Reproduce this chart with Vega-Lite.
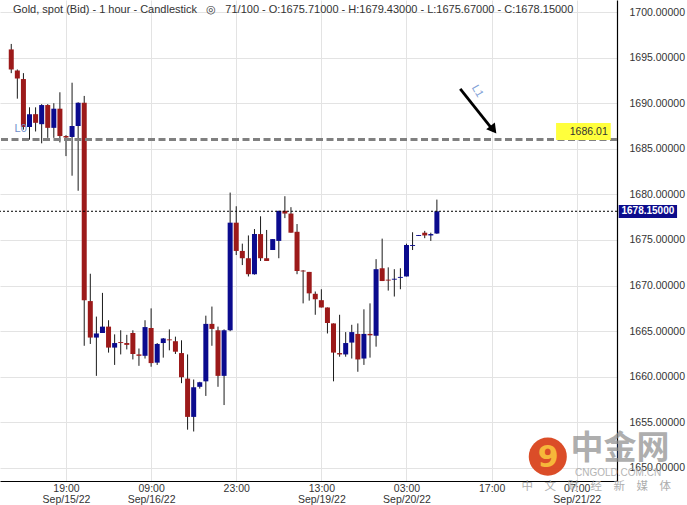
{
  "$schema": "https://vega.github.io/schema/vega-lite/v6.json",
  "width": 617,
  "height": 481,
  "autosize": "none",
  "padding": {"left": 0, "top": 0, "right": 70, "bottom": 24},
  "background": "white",
  "config": {"view": {"stroke": null}, "font": "Liberation Sans"},
  "title": {
    "text": "Gold, spot (Bid) - 1 hour - Candlestick\u00a0\u00a0\u00a0◎\u00a0\u00a0\u00a071/100 - O:1675.71000 - H:1679.43000 - L:1675.67000 - C:1678.15000",
    "anchor": "start",
    "frame": "group",
    "offset": -15,
    "dx": 13,
    "fontSize": 11,
    "fontWeight": "normal",
    "color": "#333333",
    "font": "Liberation Sans"
  },
  "datasets": {
    "candles": [
      {"i": -9, "o": 1695.9, "h": 1696.5, "l": 1693.3, "c": 1693.7},
      {"i": -8, "o": 1693.6, "h": 1693.7, "l": 1690.5, "c": 1692.7},
      {"i": -7, "o": 1692.65, "h": 1693.3, "l": 1687.1, "c": 1687.4},
      {"i": -6, "o": 1687.4, "h": 1689.55, "l": 1686.0, "c": 1688.8},
      {"i": -5, "o": 1688.8, "h": 1689.55, "l": 1686.9, "c": 1687.85},
      {"i": -4, "o": 1687.7, "h": 1689.9, "l": 1685.6, "c": 1689.8},
      {"i": -3, "o": 1689.8, "h": 1689.9, "l": 1686.2, "c": 1687.3},
      {"i": -2, "o": 1687.3, "h": 1690.0, "l": 1686.2, "c": 1689.4},
      {"i": -1, "o": 1689.4, "h": 1691.2, "l": 1685.7, "c": 1686.4},
      {"i": 0, "o": 1686.4, "h": 1686.5, "l": 1684.2, "c": 1686.25},
      {"i": 1, "o": 1686.3, "h": 1692.25, "l": 1682.05, "c": 1687.5},
      {"i": 2, "o": 1687.5, "h": 1690.1, "l": 1680.4, "c": 1690.05},
      {"i": 3, "o": 1690.05, "h": 1690.8, "l": 1663.4, "c": 1668.4},
      {"i": 4, "o": 1668.3, "h": 1671.3, "l": 1663.6, "c": 1664.3},
      {"i": 5, "o": 1664.3, "h": 1666.6, "l": 1660.1, "c": 1664.75},
      {"i": 6, "o": 1664.8, "h": 1669.2, "l": 1664.8, "c": 1665.5},
      {"i": 7, "o": 1665.5, "h": 1666.2, "l": 1662.65, "c": 1663.2},
      {"i": 8, "o": 1663.2, "h": 1664.65, "l": 1661.3, "c": 1663.7},
      {"i": 9, "o": 1663.8, "h": 1665.1, "l": 1662.45, "c": 1663.7},
      {"i": 10, "o": 1663.7, "h": 1664.6, "l": 1663.0, "c": 1663.5},
      {"i": 11, "o": 1664.8, "h": 1665.1, "l": 1661.9, "c": 1662.5},
      {"i": 12, "o": 1662.45, "h": 1663.1, "l": 1661.2, "c": 1662.3},
      {"i": 13, "o": 1662.3, "h": 1666.2, "l": 1662.0, "c": 1665.45},
      {"i": 14, "o": 1665.35, "h": 1667.5, "l": 1661.1, "c": 1661.5},
      {"i": 15, "o": 1661.55, "h": 1663.7, "l": 1661.3, "c": 1663.6},
      {"i": 16, "o": 1663.7, "h": 1664.25, "l": 1662.1, "c": 1664.2},
      {"i": 17, "o": 1664.1, "h": 1665.2, "l": 1662.9, "c": 1664.0},
      {"i": 18, "o": 1663.9, "h": 1664.4, "l": 1662.5, "c": 1662.75},
      {"i": 19, "o": 1662.6, "h": 1664.0, "l": 1659.3, "c": 1659.95},
      {"i": 20, "o": 1659.8, "h": 1662.45, "l": 1654.2, "c": 1655.6},
      {"i": 21, "o": 1655.6, "h": 1659.7, "l": 1654.0, "c": 1658.85},
      {"i": 22, "o": 1658.9, "h": 1659.45, "l": 1658.7, "c": 1659.4},
      {"i": 23, "o": 1659.5, "h": 1666.7, "l": 1657.9, "c": 1665.8},
      {"i": 24, "o": 1665.8, "h": 1667.7, "l": 1663.4, "c": 1665.25},
      {"i": 25, "o": 1665.1, "h": 1665.5, "l": 1658.9, "c": 1660.1},
      {"i": 26, "o": 1660.1, "h": 1665.2, "l": 1656.9, "c": 1665.1},
      {"i": 27, "o": 1665.1, "h": 1680.2, "l": 1665.0, "c": 1676.9},
      {"i": 28, "o": 1676.9, "h": 1678.7, "l": 1673.35, "c": 1673.8},
      {"i": 29, "o": 1673.8, "h": 1674.6, "l": 1672.25, "c": 1673.0},
      {"i": 30, "o": 1673.0, "h": 1675.5, "l": 1671.0, "c": 1671.25},
      {"i": 31, "o": 1671.25, "h": 1676.2, "l": 1671.2, "c": 1675.65},
      {"i": 32, "o": 1675.65, "h": 1677.6, "l": 1672.7, "c": 1673.0},
      {"i": 33, "o": 1673.0, "h": 1676.1, "l": 1672.7, "c": 1672.7},
      {"i": 34, "o": 1673.9, "h": 1675.1, "l": 1673.9, "c": 1675.1},
      {"i": 35, "o": 1674.9, "h": 1678.2, "l": 1673.0, "c": 1678.2},
      {"i": 36, "o": 1678.2, "h": 1679.8, "l": 1677.4, "c": 1677.9},
      {"i": 37, "o": 1677.9, "h": 1678.6, "l": 1675.8, "c": 1675.8},
      {"i": 38, "o": 1675.9, "h": 1676.75, "l": 1671.25, "c": 1671.6},
      {"i": 39, "o": 1671.65, "h": 1671.7, "l": 1668.05, "c": 1671.55},
      {"i": 40, "o": 1671.5, "h": 1671.5, "l": 1668.35, "c": 1669.15},
      {"i": 41, "o": 1669.1, "h": 1669.35, "l": 1666.8, "c": 1668.5},
      {"i": 42, "o": 1668.4, "h": 1669.6, "l": 1667.6, "c": 1667.6},
      {"i": 43, "o": 1667.6, "h": 1667.6, "l": 1664.75, "c": 1665.9},
      {"i": 44, "o": 1665.85, "h": 1665.85, "l": 1659.5, "c": 1662.65},
      {"i": 45, "o": 1662.6, "h": 1666.8, "l": 1662.2, "c": 1662.45},
      {"i": 46, "o": 1662.45, "h": 1664.9, "l": 1662.2, "c": 1663.7},
      {"i": 47, "o": 1663.75, "h": 1665.7, "l": 1662.0, "c": 1664.9},
      {"i": 48, "o": 1664.7, "h": 1665.85, "l": 1660.55, "c": 1661.9},
      {"i": 49, "o": 1662.0, "h": 1667.4, "l": 1661.3, "c": 1664.7},
      {"i": 50, "o": 1664.7, "h": 1668.05, "l": 1662.1, "c": 1664.55},
      {"i": 51, "o": 1664.5, "h": 1672.9, "l": 1663.3, "c": 1671.8},
      {"i": 52, "o": 1671.9, "h": 1675.15, "l": 1670.5, "c": 1670.5},
      {"i": 53, "o": 1670.65, "h": 1672.0, "l": 1669.45, "c": 1670.55},
      {"i": 54, "o": 1670.65, "h": 1671.8, "l": 1668.8, "c": 1670.75},
      {"i": 55, "o": 1670.85, "h": 1671.9, "l": 1669.6, "c": 1670.95},
      {"i": 56, "o": 1671.0, "h": 1674.6, "l": 1671.0, "c": 1674.45},
      {"i": 57, "o": 1674.35, "h": 1675.85, "l": 1673.9, "c": 1674.45},
      {"i": 58, "o": 1675.45, "h": 1675.55, "l": 1675.45, "c": 1675.55},
      {"i": 59, "o": 1675.8, "h": 1676.0, "l": 1675.2, "c": 1675.5},
      {"i": 60, "o": 1675.5, "h": 1675.8, "l": 1674.9, "c": 1675.65},
      {"i": 61, "o": 1675.71, "h": 1679.43, "l": 1675.67, "c": 1678.15}
    ]
  },
  "layer": [
    {
      "data": {"name": "candles"},
      "mark": {"type": "rule", "color": "#1a1a1a", "strokeWidth": 1},
      "encoding": {
        "x": {
          "field": "i", "type": "quantitative", "title": null,
          "scale": {"domain": [-10.03, 89.8], "nice": false, "zero": false},
          "axis": {
            "title": null, "orient": "bottom",
            "values": [0, 14, 28, 42, 56, 70, 84],
            "labelExpr": "datum.value == 0 ? ['19:00','Sep/15/22'] : datum.value == 14 ? ['09:00','Sep/16/22'] : datum.value == 28 ? '23:00' : datum.value == 42 ? ['13:00','Sep/19/22'] : datum.value == 56 ? ['03:00','Sep/20/22'] : datum.value == 70 ? '17:00' : ['07:00','Sep/21/22']",
            "labelFontSize": 10.5, "labelColor": "#333333", "labelFont": "Liberation Sans",
            "labelLineHeight": 11, "labelPadding": 2, "labelBaseline": "top",
            "tickSize": 0, "domainColor": "#000000", "domainWidth": 1.2,
            "grid": true, "gridColor": "#e3e3e3", "gridWidth": 1
          }
        },
        "y": {
          "field": "l", "type": "quantitative", "title": null,
          "scale": {"domain": [1648.57, 1701.32], "nice": false, "zero": false},
          "axis": {
            "title": null, "orient": "right",
            "values": [1650, 1655, 1660, 1665, 1670, 1675, 1680, 1685, 1690, 1695, 1700],
            "format": ".5f",
            "labelFontSize": 10.5, "labelColor": "#333333", "labelFont": "Liberation Sans",
            "labelPadding": 12, "tickSize": 0,
            "domainColor": "#000000", "domainWidth": 1.2,
            "grid": true, "gridColor": "#e3e3e3", "gridWidth": 1
          }
        },
        "y2": {"field": "h"}
      }
    },
    {
      "data": {"name": "candles"},
      "mark": {"type": "bar", "size": 5},
      "encoding": {
        "x": {"field": "i", "type": "quantitative", "title": null},
        "y": {"field": "o", "type": "quantitative", "title": null},
        "y2": {"field": "c"},
        "color": {
          "condition": {"test": "datum.c < datum.o", "value": "#9c1a1a"},
          "value": "#0b0b8e"
        }
      }
    },
    {
      "data": {"values": [{"p": 1686.01}]},
      "mark": {"type": "rule", "color": "#808080", "strokeWidth": 3, "strokeDash": [7, 3.5]},
      "encoding": {"y": {"field": "p", "type": "quantitative", "title": null}}
    },
    {
      "data": {"values": [{"p": 1678.15}]},
      "mark": {"type": "rule", "color": "#000000", "strokeWidth": 1, "strokeDash": [2, 2]},
      "encoding": {"y": {"field": "p", "type": "quantitative", "title": null}}
    },
    {
      "data": {"values": [{"i": 64.84, "p": 1691.56, "i2": 70.3, "p2": 1687.0}]},
      "mark": {"type": "rule", "color": "#000000", "strokeWidth": 2.8},
      "encoding": {
        "x": {"field": "i", "type": "quantitative", "title": null},
        "y": {"field": "p", "type": "quantitative", "title": null},
        "x2": {"field": "i2"},
        "y2": {"field": "p2"}
      }
    },
    {
      "data": {"values": [{"i": 70.3, "p": 1687.1}]},
      "mark": {"type": "point", "shape": "triangle-up", "filled": true, "color": "#000000", "opacity": 1, "size": 120, "angle": 142},
      "encoding": {
        "x": {"field": "i", "type": "quantitative", "title": null},
        "y": {"field": "p", "type": "quantitative", "title": null}
      }
    },
    {
      "data": {"values": [{"i": 80.6, "i2": 89.6, "p": 1685.97, "p2": 1687.83}]},
      "mark": {"type": "rect", "color": "#ffff3c"},
      "encoding": {
        "x": {"field": "i", "type": "quantitative", "title": null},
        "x2": {"field": "i2"},
        "y": {"field": "p", "type": "quantitative", "title": null},
        "y2": {"field": "p2"}
      }
    },
    {
      "data": {"values": [{"i": 89.1, "p": 1686.85, "t": "1686.01"}]},
      "mark": {"type": "text", "align": "right", "baseline": "middle", "fontSize": 10.5, "color": "#333333", "font": "Liberation Sans"},
      "encoding": {
        "x": {"field": "i", "type": "quantitative", "title": null},
        "y": {"field": "p", "type": "quantitative", "title": null},
        "text": {"field": "t"}
      }
    },
    {
      "data": {"values": [{"i": 90.9, "i2": 100.5, "p": 1677.42, "p2": 1678.84}]},
      "mark": {"type": "rect", "color": "#0c0c8c"},
      "encoding": {
        "x": {"field": "i", "type": "quantitative", "title": null},
        "x2": {"field": "i2"},
        "y": {"field": "p", "type": "quantitative", "title": null},
        "y2": {"field": "p2"}
      }
    },
    {
      "data": {"values": [{"i": 95.7, "p": 1678.13, "t": "1678.15000"}]},
      "mark": {"type": "text", "align": "center", "baseline": "middle", "fontSize": 10, "fontWeight": "bold", "color": "#ffffff", "font": "Liberation Sans"},
      "encoding": {
        "x": {"field": "i", "type": "quantitative", "title": null},
        "y": {"field": "p", "type": "quantitative", "title": null},
        "text": {"field": "t"}
      }
    },
    {
      "data": {"values": [{"i": -7.44, "p": 1687.18, "t": "L0"}]},
      "mark": {"type": "text", "align": "center", "baseline": "middle", "fontSize": 11, "color": "#6f8fcb", "font": "Liberation Sans"},
      "encoding": {
        "x": {"field": "i", "type": "quantitative", "title": null},
        "y": {"field": "p", "type": "quantitative", "title": null},
        "text": {"field": "t"}
      }
    },
    {
      "data": {"values": [{"i": 67.64, "p": 1691.3, "t": "L1"}]},
      "mark": {"type": "text", "align": "center", "baseline": "middle", "fontSize": 11, "angle": 60, "color": "#7f9fd6", "font": "Liberation Sans"},
      "encoding": {
        "x": {"field": "i", "type": "quantitative", "title": null},
        "y": {"field": "p", "type": "quantitative", "title": null},
        "text": {"field": "t"}
      }
    },
    {
      "data": {"values": [{"i": 79.24, "p": 1651.24}]},
      "mark": {"type": "point", "shape": "circle", "filled": true, "color": "#d9431c", "opacity": 0.95, "size": 1450},
      "encoding": {
        "x": {"field": "i", "type": "quantitative", "title": null},
        "y": {"field": "p", "type": "quantitative", "title": null}
      }
    },
    {
      "data": {"values": [{"i": 79.3, "p": 1651.1, "t": "9"}]},
      "mark": {"type": "text", "align": "center", "baseline": "middle", "fontSize": 30, "fontWeight": "bold", "color": "#f6b73a", "font": "DejaVu Sans"},
      "encoding": {
        "x": {"field": "i", "type": "quantitative", "title": null},
        "y": {"field": "p", "type": "quantitative", "title": null},
        "text": {"field": "t"}
      }
    },
    {
      "data": {"values": [{"i": 91.1, "p": 1652.09, "t": "中金网"}]},
      "mark": {"type": "text", "align": "center", "baseline": "middle", "fontSize": 33, "fontWeight": "bold", "color": "#8c8c8c", "opacity": 0.7, "font": "Noto Sans CJK SC"},
      "encoding": {
        "x": {"field": "i", "type": "quantitative", "title": null},
        "y": {"field": "p", "type": "quantitative", "title": null},
        "text": {"field": "t"}
      }
    },
    {
      "data": {"values": [{"i": 90.8, "p": 1649.4, "t": "CNGOLD.COM.CN"}]},
      "mark": {"type": "text", "align": "center", "baseline": "middle", "fontSize": 10, "color": "#a8a8a8", "opacity": 0.85, "font": "Liberation Sans"},
      "encoding": {
        "x": {"field": "i", "type": "quantitative", "title": null},
        "y": {"field": "p", "type": "quantitative", "title": null},
        "text": {"field": "t"}
      }
    },
    {
      "data": {"values": [{"i": 87.2, "p": 1647.92, "t": "中　文　财　经　新　媒　体"}]},
      "mark": {"type": "text", "align": "center", "baseline": "middle", "fontSize": 11.5, "color": "#a0a0a0", "opacity": 0.85, "font": "Noto Sans CJK SC"},
      "encoding": {
        "x": {"field": "i", "type": "quantitative", "title": null},
        "y": {"field": "p", "type": "quantitative", "title": null},
        "text": {"field": "t"}
      }
    }
  ]
}
